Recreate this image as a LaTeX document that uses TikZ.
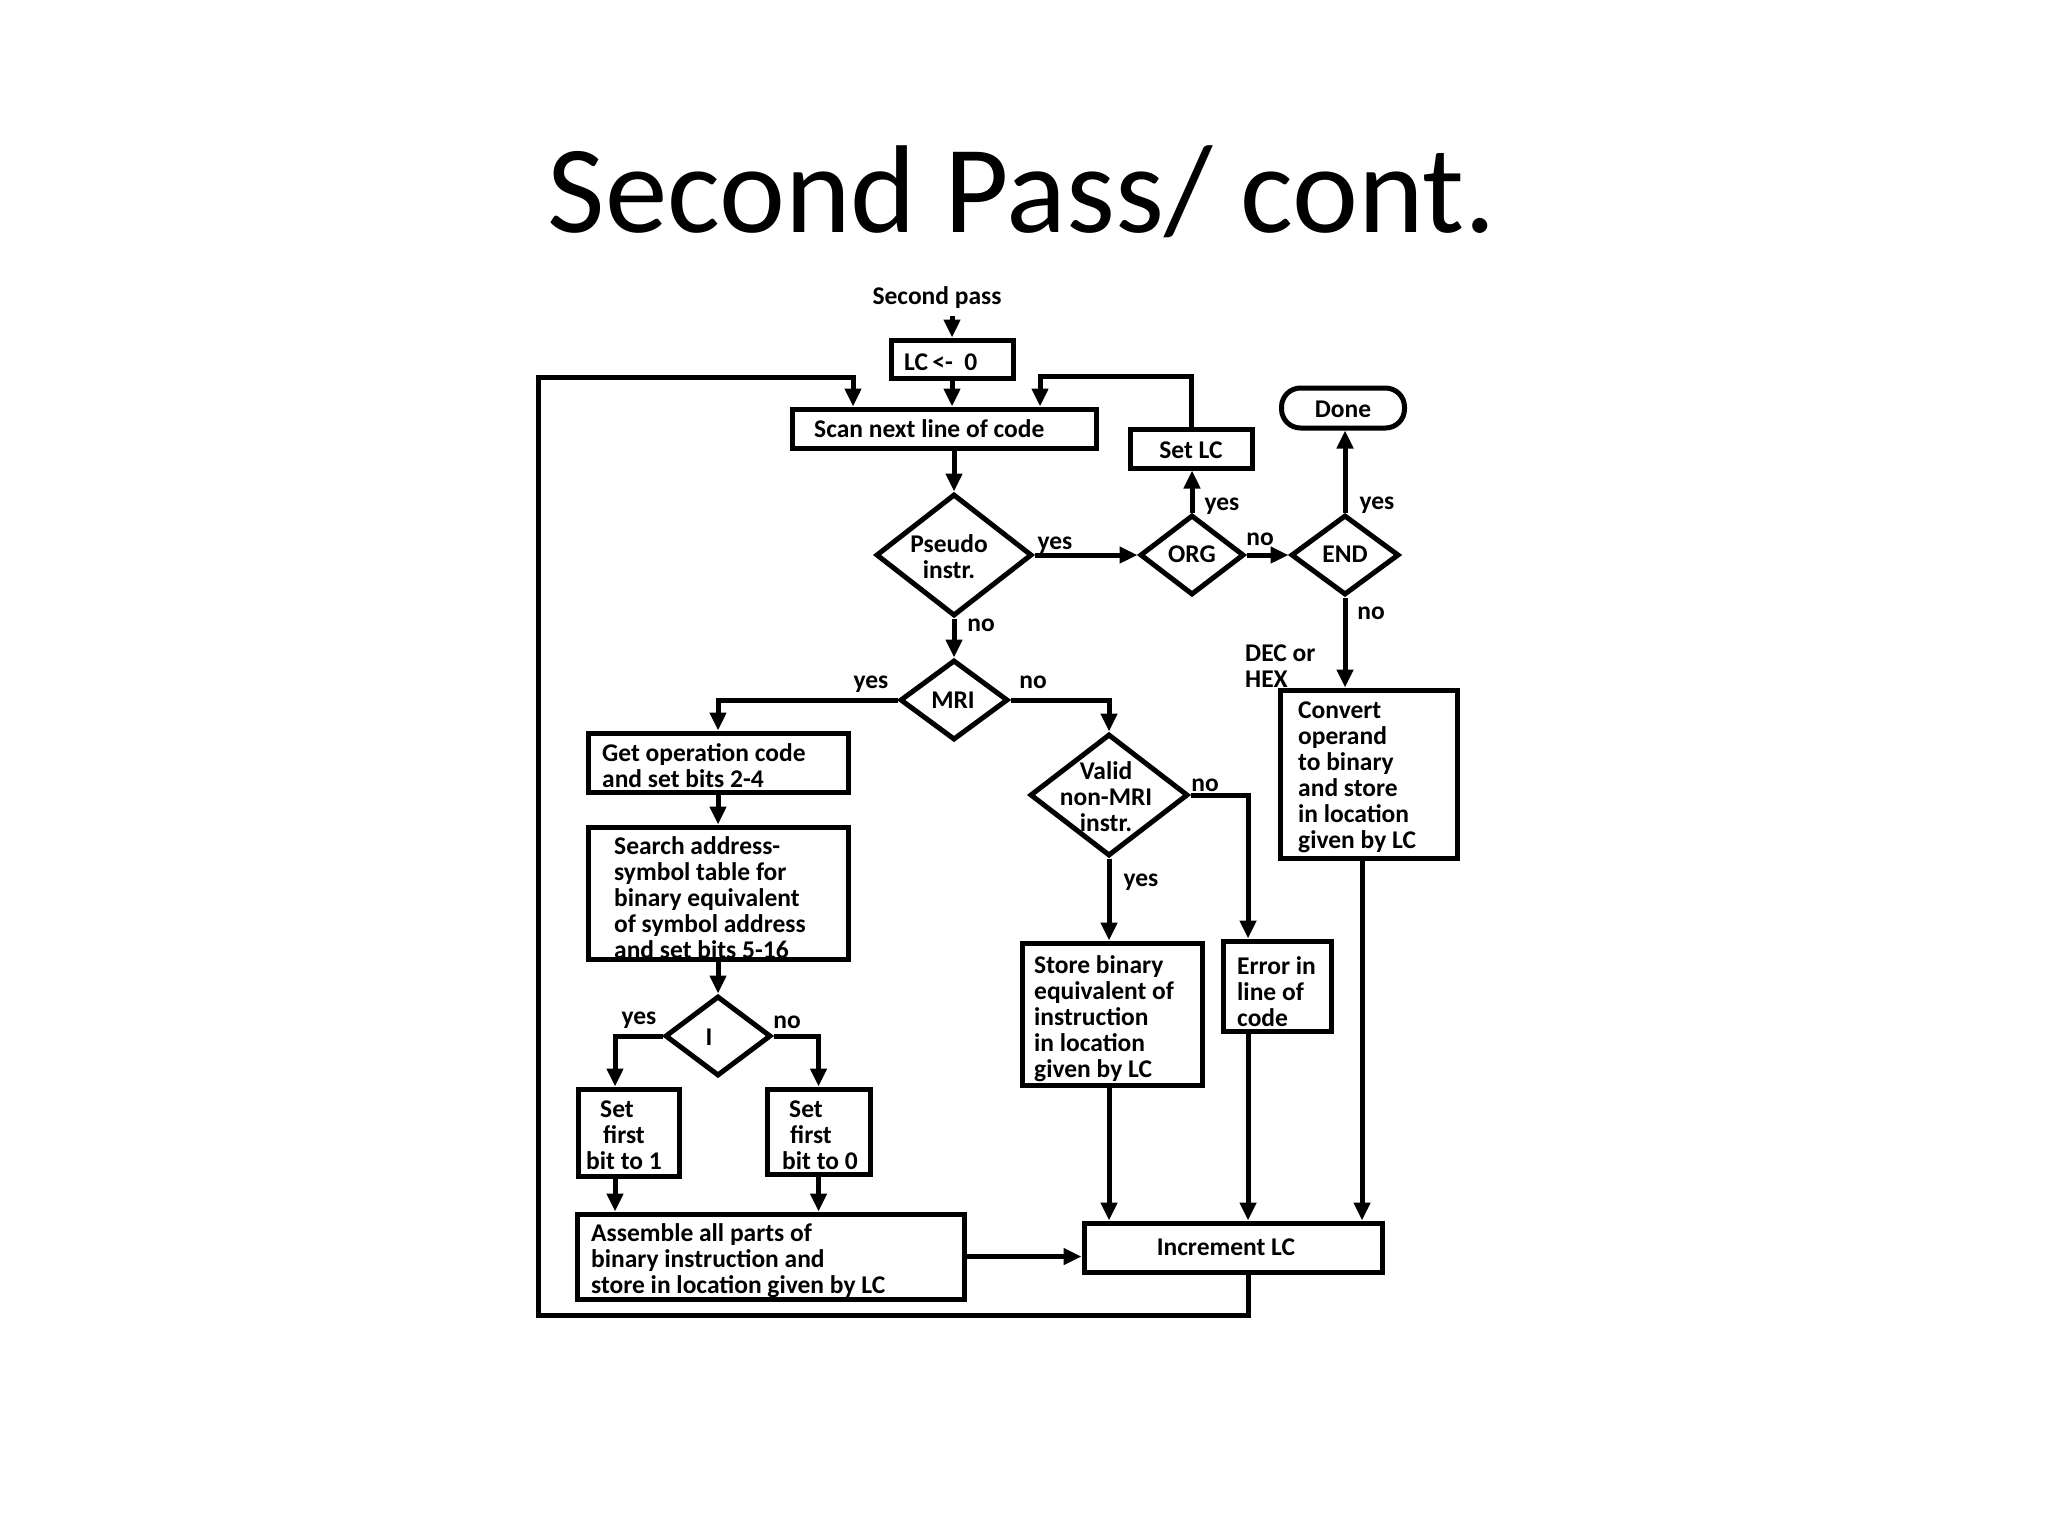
\documentclass[tikz,border=0pt]{standalone}
\usepackage{fontspec}
\setmainfont{Carlito}
\usetikzlibrary{shapes.geometric,arrows.meta,calc}
\newcommand\bodyf{\fontsize{25.5}{26}\selectfont\bfseries}
\tikzset{
  ln/.style={line width=5pt},
  box/.style={draw, ln, rectangle, inner sep=0pt},
  dia/.style={draw, ln, diamond, inner sep=0pt},
  txt/.style={font=\bodyf, inner sep=0pt, align=left},
  ctxt/.style={font=\bodyf, inner sep=0pt, align=center},
  arr/.style={ln, -{Triangle[length=18pt,width=16pt]}},
  con/.style={ln},
}
\begin{document}
\begin{tikzpicture}[x=1pt,y=-1pt]
\useasboundingbox (0,0) rectangle (2048,1536);
% title
\node[font=\fontsize{125}{150}\selectfont, inner sep=0pt, anchor=base] (title) at (1022,232) {Second Pass/ cont.};

% boxes
\node[box, minimum width=122, minimum height=38] (lc) at (952,359) {};
\node[box, minimum width=304, minimum height=39] (scan) at (944,428.5) {};
\node[box, minimum width=122, minimum height=39] (setlc) at (1191,448.5) {};
\node[box, minimum width=123, minimum height=40, rounded corners=19pt] (done) at (1343,408) {};
\node[box, minimum width=260, minimum height=59] (getop) at (718,762.5) {};
\node[box, minimum width=260, minimum height=132] (search) at (718,893) {};
\node[box, minimum width=180, minimum height=142] (store) at (1112,1014) {};
\node[box, minimum width=108, minimum height=90] (error) at (1277,986) {};
\node[box, minimum width=177, minimum height=168] (convert) at (1368.5,774) {};
\node[box, minimum width=101, minimum height=87] (set1) at (628.5,1132.5) {};
\node[box, minimum width=103, minimum height=85] (set0) at (818.5,1131.5) {};
\node[box, minimum width=387, minimum height=85] (assemble) at (770.5,1256.5) {};
\node[box, minimum width=298, minimum height=49] (incr) at (1233,1247.5) {};

% diamonds
\node[dia, minimum width=156, minimum height=122] (pseudo) at (954,555) {};
\node[dia, minimum width=104, minimum height=80] (org) at (1192,555) {};
\node[dia, minimum width=108, minimum height=80] (end) at (1345,555) {};
\node[dia, minimum width=108, minimum height=80] (mri) at (954,700) {};
\node[dia, minimum width=158, minimum height=122] (valid) at (1109,795) {};
\node[dia, minimum width=106, minimum height=80] (idia) at (718,1036) {};

% texts (base anchor = baseline of the last line)
\node[txt, anchor=base] (sptxt) at (937,304) {Second pass};
\node[txt, anchor=base west] (lctxt) at (904,370) {LC\,<-\ \ 0};
\node[txt, anchor=base west] (scantxt) at (814,437) {Scan next line of code};
\node[txt, anchor=base] (setlctxt) at (1191,458) {Set LC};
\node[txt, anchor=base] (donetxt) at (1343,417) {Done};
\node[ctxt, anchor=base] (pseudotxt) at (949,578) {Pseudo\\instr.};
\node[txt, anchor=base] (orgtxt) at (1192,562) {ORG};
\node[txt, anchor=base] (endtxt) at (1345,562) {END};
\node[txt, anchor=base] (mritxt) at (953,708) {MRI};
\node[ctxt, anchor=base] (validtxt) at (1106,831) {Valid\\non-MRI\\instr.};
\node[txt, anchor=base] (itxt) at (709,1045) {I};
\node[txt, anchor=base west] (getoptxt) at (602,787) {Get operation code\\and set bits 2-4};
\node[txt, anchor=base west] (searchtxt) at (614,958) {Search address-\\symbol table for\\binary equivalent\\of symbol address\\and set bits 5-16};
\node[txt, anchor=base west] (storetxt) at (1034,1077) {Store binary\\equivalent of\\instruction\\in location\\given by LC};
\node[txt, anchor=base west] (errortxt) at (1237,1026) {Error in\\line of\\code};
\node[txt, anchor=base west] (converttxt) at (1298,848) {Convert\\operand\\to binary\\and store\\in location\\given by LC};
\node[txt, anchor=base west] (dectxt) at (1245,687) {DEC or\\HEX};
\node[txt, anchor=base west] (set1txt) at (586,1169) {\hspace*{14pt}Set\\\hspace*{17pt}first\\bit to 1};
\node[txt, anchor=base west] (set0txt) at (782,1169) {\hspace*{7pt}Set\\\hspace*{8pt}first\\bit to 0};
\node[txt, anchor=base west] (asmtxt) at (591,1293) {Assemble all parts of\\binary instruction and\\store in location given by LC};
\node[txt, anchor=base] (incrtxt) at (1226,1255) {Increment LC};

% branch labels
\node[txt, anchor=base] (l1) at (1055,549) {yes};
\node[txt, anchor=base] (l2) at (981,631) {no};
\node[txt, anchor=base] (l3) at (1222,510) {yes};
\node[txt, anchor=base] (l4) at (1260,545) {no};
\node[txt, anchor=base] (l5) at (1377,509) {yes};
\node[txt, anchor=base] (l6) at (1371,619) {no};
\node[txt, anchor=base] (l7) at (871,688) {yes};
\node[txt, anchor=base] (l8) at (1033,688) {no};
\node[txt, anchor=base] (l9) at (1205,791) {no};
\node[txt, anchor=base] (l10) at (1141,886) {yes};
\node[txt, anchor=base] (l11) at (639,1024) {yes};
\node[txt, anchor=base] (l12) at (787,1028) {no};

% helper coordinates
\coordinate (j1) at (1040,376);
\coordinate (lb) at (538,1315);
\coordinate (lt) at (853,377);
\coordinate (xs1) at (615,0);
\coordinate (xe) at (1248,0);
\coordinate (xc) at (1362,0);

% connectors
\draw[arr] (sptxt.south -| lc.north) ++(0,8) -- (lc.north);
\draw[arr] (lc.south) -- (lc.south |- scan.north);
\draw[arr] (scan.south -| pseudo.north) -- (pseudo.north);
\draw[arr] (pseudo.east) -- (org.west);
\draw[arr] (org.north) -- (org.north |- setlc.south);
\draw[arr] (setlc.north) |- (j1) -- (j1 |- scan.north);
\draw[arr] (org.east) -- (end.west);
\draw[arr] (end.north) -- (end.north |- done.south);
\draw[arr] (end.south) -- (end.south |- convert.north);
\draw[arr] (pseudo.south) -- (mri.north);
\draw[arr] (mri.west) -| (getop.north);
\draw[arr] (getop.south) -- (search.north);
\draw[arr] (search.south) -- (idia.north);
\draw[arr] (idia.west) -| (xs1 |- set1.north);
\draw[arr] (idia.east) -| (set0.north);
\draw[arr] (xs1 |- set1.south) -- (xs1 |- assemble.north);
\draw[arr] (set0.south) -- (set0.south |- assemble.north);
\draw[arr] (assemble.east) -- (assemble.east -| incr.west);
\draw[arr] (mri.east) -| (valid.north);
\draw[arr] (valid.south) -- (valid.south |- store.north);
\draw[arr] (valid.east) -| (xe |- error.north);
\draw[arr] (valid.south |- store.south) -- (valid.south |- incr.north);
\draw[arr] (xe |- error.south) -- (xe |- incr.north);
\draw[arr] (xc |- convert.south) -- (xc |- incr.north);
\draw[arr] (xe |- incr.south) |- (lb) |- (lt) -- (lt |- scan.north);
\end{tikzpicture}
\end{document}
